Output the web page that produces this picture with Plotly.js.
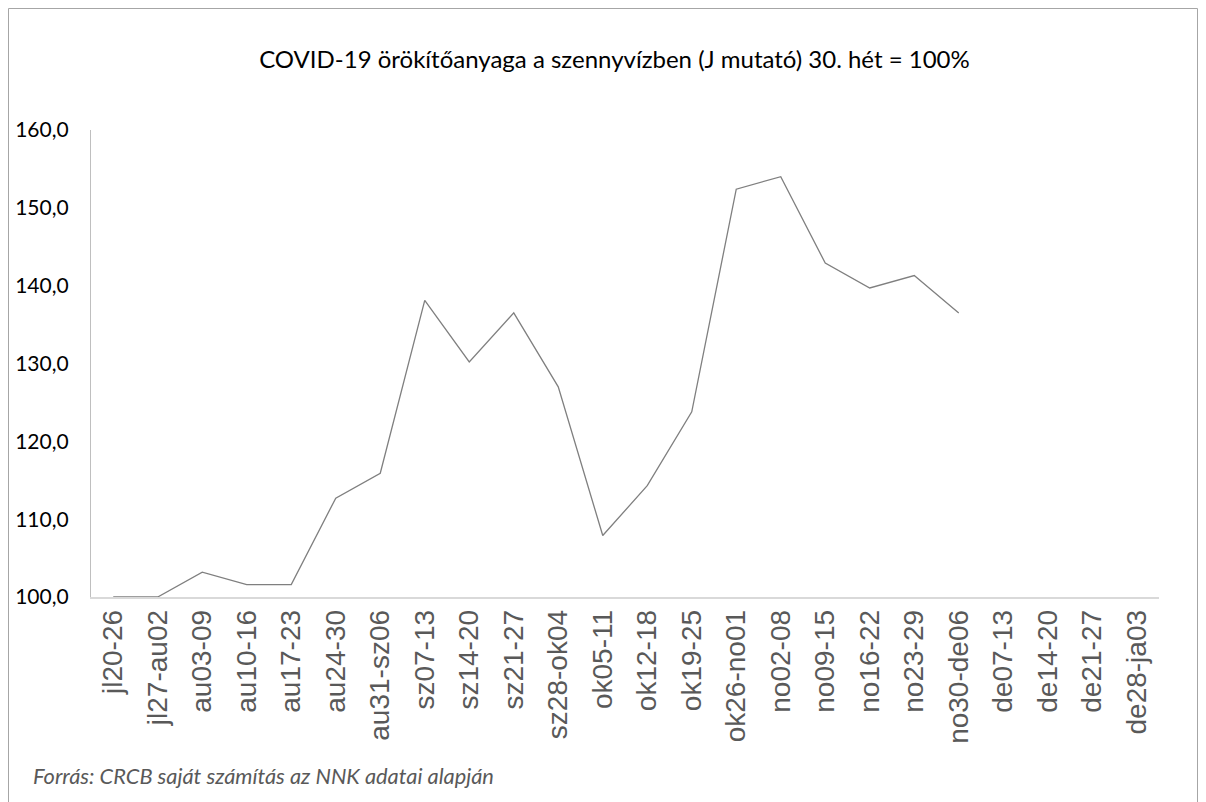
<!DOCTYPE html>
<html>
<head>
<meta charset="utf-8">
<script src="https://cdn.plot.ly/plotly-3.0.1.min.js"></script>
<style>html,body{margin:0;padding:0;background:#fff;}</style>
</head>
<body>
<div id="chart" style="width:1206px;height:802px;"></div>
<script>
const weeks = ["jl20-26","jl27-au02","au03-09","au10-16","au17-23","au24-30","au31-sz06","sz07-13","sz14-20","sz21-27","sz28-ok04","ok05-11","ok12-18","ok19-25","ok26-no01","no02-08","no09-15","no16-22","no23-29","no30-de06","de07-13","de14-20","de21-27","de28-ja03"];
const jIndex = [100.0,100.0,103.2,101.6,101.6,112.7,115.9,138.1,130.2,136.5,127.0,107.9,114.3,123.8,152.4,154.0,142.9,139.7,141.3,136.5,null,null,null,null];
const yTicks = [100,110,120,130,140,150,160];
const titleText = "COVID-19 örökítőanyaga a szennyvízben (J mutató) 30. hét = 100%";
const sourceText = "Forrás: CRCB saját számítás az NNK adatai alapján";

const W = 1206, H = 802;
const mL = 91, mR = 47, mT = 130, mB = 205;
const pw = W - mL - mR, ph = H - mT - mB;
const px = x => (x - mL) / pw;
const py = y => (H - mB - y) / ph;

const trace = {
  type: "scatter",
  mode: "lines",
  x: weeks,
  y: jIndex,
  line: {color: "#7f7f7f", width: 1.3},
  connectgaps: false,
  hoverinfo: "x+y"
};

const layout = {
  width: W, height: H,
  margin: {l: mL, r: mR, t: mT, b: mB, pad: 0},
  paper_bgcolor: "#ffffff",
  plot_bgcolor: "#ffffff",
  separators: ", ",
  showlegend: false,
  title: {
    text: titleText,
    font: {family: "Lato, 'Open Sans', sans-serif", size: 24, color: "#000000"},
    xref: "container", yref: "container",
    x: 0.5095, xanchor: "center",
    y: 1 - 60 / H, yanchor: "middle"
  },
  xaxis: {
    type: "category",
    categoryorder: "array",
    categoryarray: weeks,
    range: [-0.5, weeks.length - 0.5],
    showline: true, linecolor: "#d9d9d9", linewidth: 1.5,
    showgrid: false, zeroline: false,
    ticks: "",
    tickangle: -90,
    tickfont: {family: "'Liberation Sans', Arial, sans-serif", size: 28, color: "#595959"},
    fixedrange: true
  },
  yaxis: {
    range: [100, 160],
    tickvals: yTicks,
    tickformat: ".1f",
    showline: true, linecolor: "#bfbfbf", linewidth: 1.2,
    showgrid: false, zeroline: false,
    ticks: "",
    ticklabelstandoff: 17,
    tickfont: {family: "Lato, 'Open Sans', sans-serif", size: 21, color: "#000000"},
    fixedrange: true
  },
  annotations: [{
    text: sourceText,
    xref: "paper", yref: "paper",
    x: px(31), y: py(775),
    xanchor: "left", yanchor: "middle",
    showarrow: false,
    font: {family: "Lato, 'Open Sans', sans-serif", size: 21.8, color: "#595959", style: "italic"}
  }],
  shapes: [{
    type: "rect",
    xref: "paper", yref: "paper",
    x0: px(8.5), x1: px(1197.5),
    y0: py(830), y1: py(8.5),
    line: {color: "#a6a6a6", width: 1},
    fillcolor: "rgba(0,0,0,0)",
    layer: "below"
  }]
};

Plotly.newPlot("chart", [trace], layout, {displayModeBar: false, staticPlot: false});
</script>
</body>
</html>
